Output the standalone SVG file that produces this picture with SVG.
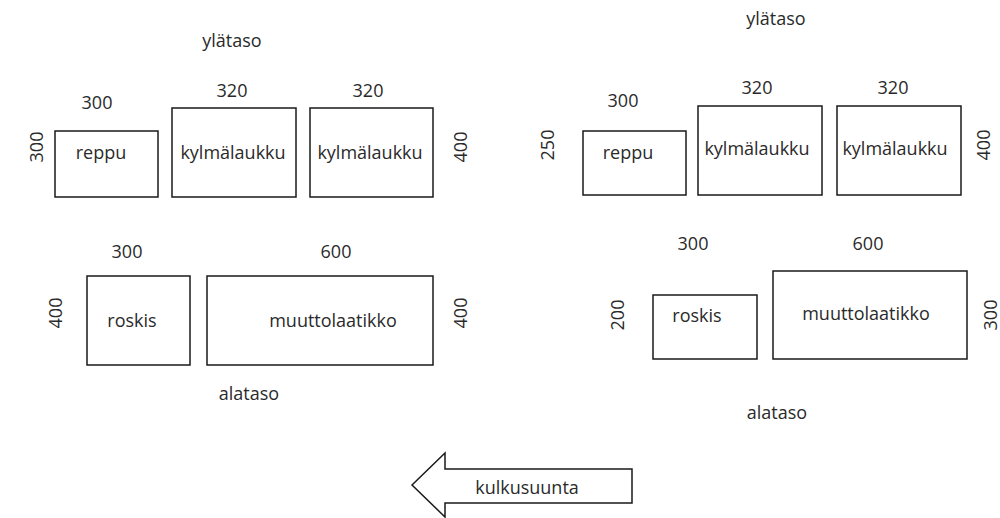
<svg xmlns="http://www.w3.org/2000/svg" width="1000" height="518" viewBox="0 0 1000 518">
<style>
text{font-family:"Open Sans","Noto Sans",sans-serif;font-size:18px;fill:#2a2a2a;text-anchor:middle;dominant-baseline:central}
.box{fill:#fff;stroke:#1a1a1a;stroke-width:1.5}
</style>
<rect width="1000" height="518" fill="#fff"/>
<g id="left-side">
<text x="232" y="40">ylätaso</text>
<text x="97" y="102">300</text>
<text x="232" y="90">320</text>
<text x="368" y="90">320</text>
<text transform="translate(36,147) rotate(-90)">300</text>
<text transform="translate(460,147) rotate(-90)">400</text>
<g id="L-reppu"><rect class="box" x="55" y="131" width="103" height="66"/><text x="101" y="152">reppu</text></g>
<g id="L-kylma1"><rect class="box" x="172" y="108" width="124" height="89"/><text x="233" y="152">kylmälaukku</text></g>
<g id="L-kylma2"><rect class="box" x="310" y="108" width="123" height="89"/><text x="370" y="152">kylmälaukku</text></g>
<text x="127" y="251">300</text>
<text x="336" y="251">600</text>
<text transform="translate(55,313) rotate(-90)">400</text>
<text transform="translate(460,313) rotate(-90)">400</text>
<g id="L-roskis"><rect class="box" x="87" y="276" width="103" height="89"/><text x="132" y="320">roskis</text></g>
<g id="L-muutto"><rect class="box" x="207" y="276" width="226" height="89"/><text x="333" y="320">muuttolaatikko</text></g>
<text x="249" y="393">alataso</text>
</g>
<g id="right-side">
<text x="776" y="18">ylätaso</text>
<text x="623" y="100">300</text>
<text x="757" y="87">320</text>
<text x="893" y="87">320</text>
<text transform="translate(547,145) rotate(-90)">250</text>
<text transform="translate(983,145) rotate(-90)">400</text>
<g id="R-reppu"><rect class="box" x="583" y="131" width="103" height="64"/><text x="628" y="152">reppu</text></g>
<g id="R-kylma1"><rect class="box" x="698" y="106" width="124" height="89"/><text x="757" y="148">kylmälaukku</text></g>
<g id="R-kylma2"><rect class="box" x="837" y="106" width="124" height="89"/><text x="895" y="148">kylmälaukku</text></g>
<text x="693" y="243">300</text>
<text x="868" y="243">600</text>
<text transform="translate(617,315) rotate(-90)">200</text>
<text transform="translate(990,315) rotate(-90)">300</text>
<g id="R-roskis"><rect class="box" x="653" y="295" width="104" height="64"/><text x="697" y="315">roskis</text></g>
<g id="R-muutto"><rect class="box" x="773" y="271" width="194" height="88"/><text x="866" y="313">muuttolaatikko</text></g>
<text x="777" y="412">alataso</text>
</g>
<g id="arrow">
<polygon class="box" points="412,485 445,453 445,469 632,469 632,503 445,503 445,517"/>
<text x="527" y="487">kulkusuunta</text>
</g>
</svg>
